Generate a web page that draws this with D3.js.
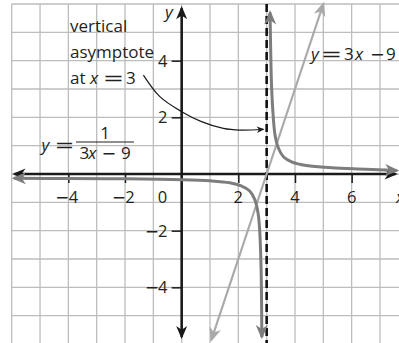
<!DOCTYPE html>
<html>
<head>
<meta charset="utf-8">
<script src="https://cdn.jsdelivr.net/npm/d3@7"></script>
<style>
  body { margin: 0; background: #fff; }
  svg { display: block; font-family: "Open Sans", sans-serif; }
  .it { font-style: italic; }
  .op { font-family: "DejaVu Sans", sans-serif; }
</style>
</head>
<body>
<div id="chart"></div>
<script>
// values (graph units)
const xTicks = [-4, -2, 2, 4, 6];
const yTicks = [-4, -2, 2, 4];
const asymptoteX = 3;

// y = 3x - 9, the two arrow ends
const lineX = [1.05, 5];
const lineY = [-5.85, 6];

// y = 1/(3x - 9), right branch (top arrow -> right arrow)
const rightX = [3.12, 3.14, 3.17, 3.22, 3.3, 3.42, 3.6, 3.9, 4.4, 5.3, 6.5, 7.6];
const rightY = [5.7, 4.5, 3.2, 2.2, 1.35, 0.9, 0.6, 0.42, 0.3, 0.22, 0.17, 0.12];

// left branch (left arrow -> bottom arrow)
const leftX = [-5.92, -4, -2, 0, 1, 1.7, 2.1, 2.4, 2.58, 2.7, 2.76, 2.8, 2.82, 2.83];
const leftY = [-0.15, -0.16, -0.17, -0.2, -0.24, -0.31, -0.42, -0.6, -0.9, -1.4, -2.1, -3.2, -4.5, -5.75];

// callout arrow
const noteX = [-1.35, -0.77, 0, 0.7, 1.47, 2.06, 2.88];
const noteY = [3.49, 2.73, 2.2, 1.85, 1.61, 1.55, 1.58];

const width = 399, height = 343;

const x = d3.scaleLinear().domain([-6, 8]).range([11.7, 408.3]);
const y = d3.scaleLinear().domain([6, -6]).range([4, 344]);

const svg = d3.select("#chart")
    .append("svg")
    .attr("width", width)
    .attr("height", height);

const defs = svg.append("defs");
function marker(id, color, s) {
    defs.append("marker")
        .attr("id", id)
        .attr("viewBox", "-14 -7 16 14")
        .attr("refX", -2).attr("refY", 0)
        .attr("markerWidth", 16 * s).attr("markerHeight", 14 * s)
        .attr("markerUnits", "userSpaceOnUse")
        .attr("orient", "auto-start-reverse")
        .append("path")
        .attr("d", "M0,0 L-12,-5 L-8.5,0 L-12,5 Z")
        .attr("fill", color);
}
marker("arBlack", "#1a1a1a", 1.1);
marker("arDark", "#7d7d7d", 1.2);
marker("arLight", "#a9a9a9", 1.2);
marker("arNote", "#1a1a1a", 0.65);

// grid
const g = svg.append("g");
g.selectAll(".gv").data(d3.range(-6, 9)).join("line")
    .attr("x1", d => x(d)).attr("x2", d => x(d))
    .attr("y1", y(6)).attr("y2", y(-6))
    .attr("stroke", "#bdbdbd").attr("stroke-width", 1.3);
g.selectAll(".gh").data(d3.range(-6, 7)).join("line")
    .attr("x1", x(-6)).attr("x2", x(8))
    .attr("y1", d => y(d)).attr("y2", d => y(d))
    .attr("stroke", "#bdbdbd").attr("stroke-width", 1.3);

// tick marks
const xAxis = svg.append("g")
    .attr("transform", `translate(0,${y(0)})`)
    .call(d3.axisBottom(x).tickValues(xTicks).tickSize(9).tickFormat(""));
const yAxis = svg.append("g")
    .attr("transform", `translate(${x(0)},0)`)
    .call(d3.axisLeft(y).tickValues(yTicks).tickSize(10).tickFormat(""));
[xAxis, yAxis].forEach(a => {
    a.select(".domain").remove();
    a.selectAll(".tick line").attr("stroke", "#1a1a1a").attr("stroke-width", 1.5);
});

svg.append("line")
    .attr("x1", x(-5.9)).attr("x2", x(7.55))
    .attr("y1", y(0)).attr("y2", y(0))
    .attr("stroke", "#1a1a1a").attr("stroke-width", 2.6)
    .attr("marker-start", "url(#arBlack)").attr("marker-end", "url(#arBlack)");
svg.append("line")
    .attr("x1", x(0)).attr("x2", x(0))
    .attr("y1", y(-5.75)).attr("y2", y(5.85))
    .attr("stroke", "#1a1a1a").attr("stroke-width", 2.6)
    .attr("marker-start", "url(#arBlack)").attr("marker-end", "url(#arBlack)");

// asymptote
svg.append("line")
    .attr("x1", x(asymptoteX)).attr("x2", x(asymptoteX))
    .attr("y1", y(6)).attr("y2", height)
    .attr("stroke", "#111").attr("stroke-width", 2.6)
    .attr("stroke-dasharray", "8,4");

const line = d3.line().x(d => x(d[0])).y(d => y(d[1]));

svg.append("path")
    .datum(d3.zip(lineX, lineY))
    .attr("d", line)
    .attr("fill", "none").attr("stroke", "#a9a9a9").attr("stroke-width", 2.2)
    .attr("marker-start", "url(#arLight)").attr("marker-end", "url(#arLight)");

const curve = d3.line().x(d => x(d[0])).y(d => y(d[1])).curve(d3.curveCatmullRom.alpha(0.5));
[[rightX, rightY], [leftX, leftY]].forEach(([xs, ys]) => {
    svg.append("path")
        .datum(d3.zip(xs, ys))
        .attr("d", curve)
        .attr("fill", "none").attr("stroke", "#7d7d7d").attr("stroke-width", 3)
        .attr("marker-start", "url(#arDark)").attr("marker-end", "url(#arDark)");
});

svg.append("path")
    .datum(d3.zip(noteX, noteY))
    .attr("d", curve)
    .attr("fill", "none").attr("stroke", "#1a1a1a").attr("stroke-width", 1.2)
    .attr("marker-end", "url(#arNote)");

// labels
const txt = svg.append("g").attr("fill", "#231f20").style("font-size", "17px");

function word(px, py, s, cls, anchor) {
    return txt.append("text").attr("x", px).attr("y", py)
        .attr("class", cls || null).attr("text-anchor", anchor || "start").text(s);
}
// wide math operator, glyph width gw centred on cx
function op(cx, py, s, gw) {
    return txt.append("text").attr("class", "op")
        .attr("x", cx).attr("y", py).attr("text-anchor", "middle")
        .attr("textLength", gw * 1.339).attr("lengthAdjust", "spacingAndGlyphs")
        .text(s);
}

// tick labels
const tickSize = 16.5;
xTicks.forEach(t => {
    const px = x(t), py = 203;
    if (t < 0) {
        op(px - 6, py, "\u2212", 10.5).style("font-size", tickSize + "px");
        word(px + 0.3, py, Math.abs(t)).style("font-size", tickSize + "px");
    } else {
        word(px, py, t, null, "middle").style("font-size", tickSize + "px");
    }
});
yTicks.forEach(t => {
    const py = y(t) + 6;
    word(167.5, py, Math.abs(t), null, "end").style("font-size", tickSize + "px");
    if (t < 0) op(152, py, "\u2212", 10.5).style("font-size", tickSize + "px");
});
word(162.5, 203, "0", null, "middle").style("font-size", tickSize + "px");
word(165, 18, "y", "it");
word(396, 203, "x", "it");

word(70, 31.5, "vertical");
word(70, 57.5, "asymptote");
word(70, 84, "at");
word(90, 84, "x", "it");
op(113.4, 84, "=", 16);
word(126, 84, "3");

// y = 3x - 9
word(311, 59.5, "y", "it");
op(331.5, 59.5, "=", 16);
word(344, 59.5, "3");
word(355, 59.5, "x", "it");
op(377.4, 59.5, "\u2212", 11);
word(386, 59.5, "9");

// y = 1/(3x - 9)
word(41.5, 151, "y", "it");
op(64.5, 150.5, "=", 15);
svg.append("line").attr("x1", 76).attr("x2", 134).attr("y1", 142).attr("y2", 142)
    .attr("stroke", "#231f20").attr("stroke-width", 1.2);
word(105, 138.5, "1", null, "middle");
word(79.5, 158.5, "3");
word(88.3, 158.5, "x", "it");
op(109, 158.5, "\u2212", 11);
word(121, 158.5, "9");
</script>
</body>
</html>
